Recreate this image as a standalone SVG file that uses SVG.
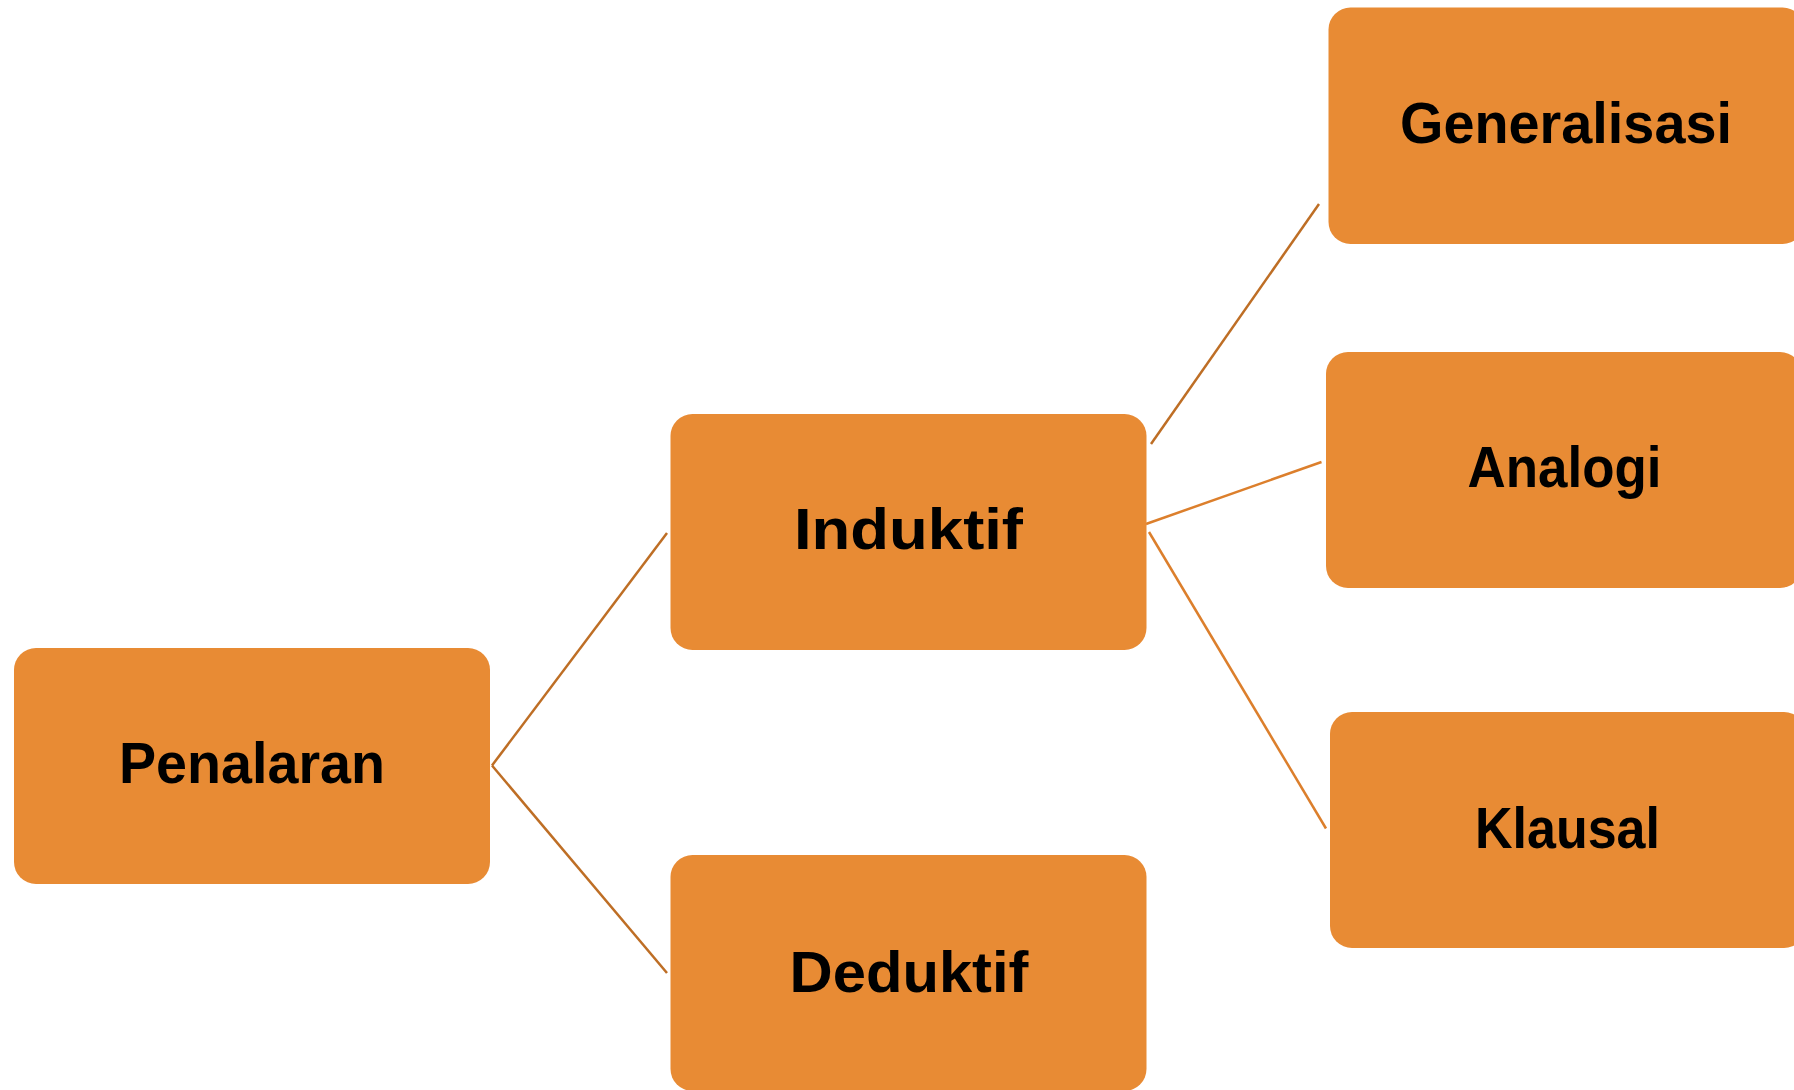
<svg xmlns="http://www.w3.org/2000/svg" width="1794" height="1090" viewBox="0 0 1794 1090">
  <style>
    .box { fill: #E88B34; }
    .label { font-family: "Comic Sans MS", "Liberation Sans", "DejaVu Sans", sans-serif; font-weight: bold; font-size: 58px; fill: #000; text-anchor: middle; }
    .link-dark { stroke: #BE6E25; stroke-width: 2.5; fill: none; }
    .link-light { stroke: #DC7F2C; stroke-width: 2.5; fill: none; }
  </style>
  <rect width="1794" height="1090" fill="#ffffff"/>

  <!-- connectors -->
  <g id="connectors">
    <line class="link-dark" x1="492" y1="765.5" x2="667" y2="533"/>
    <line class="link-dark" x1="492" y1="765.5" x2="667" y2="973"/>
    <line class="link-dark" x1="1151" y1="444" x2="1319" y2="204"/>
    <line class="link-light" x1="1146" y1="524" x2="1321.5" y2="462"/>
    <line class="link-light" x1="1149" y1="532" x2="1326" y2="828.5"/>
  </g>

  <!-- nodes -->
  <g id="node-penalaran">
    <rect class="box" x="14" y="648" width="476" height="236" rx="22" ry="22"/>
    <text class="label" x="252" y="783" textLength="266" lengthAdjust="spacingAndGlyphs">Penalaran</text>
  </g>
  <g id="node-induktif">
    <rect class="box" x="670.5" y="414" width="476" height="236" rx="22" ry="22"/>
    <text class="label" x="908.5" y="549" textLength="229" lengthAdjust="spacingAndGlyphs">Induktif</text>
  </g>
  <g id="node-deduktif">
    <rect class="box" x="670.5" y="855" width="476" height="236" rx="22" ry="22"/>
    <text class="label" x="909" y="991.5" textLength="239" lengthAdjust="spacingAndGlyphs">Deduktif</text>
  </g>
  <g id="node-generalisasi">
    <rect class="box" x="1328.5" y="7.5" width="476" height="236.5" rx="22" ry="22"/>
    <text class="label" x="1566" y="143" textLength="332" lengthAdjust="spacingAndGlyphs">Generalisasi</text>
  </g>
  <g id="node-analogi">
    <rect class="box" x="1326" y="352" width="476" height="236" rx="22" ry="22"/>
    <text class="label" x="1564.5" y="486.5" textLength="194" lengthAdjust="spacingAndGlyphs">Analogi</text>
  </g>
  <g id="node-klausal">
    <rect class="box" x="1330" y="712" width="476" height="236" rx="22" ry="22"/>
    <text class="label" x="1567.5" y="848" textLength="185" lengthAdjust="spacingAndGlyphs">Klausal</text>
  </g>
</svg>
